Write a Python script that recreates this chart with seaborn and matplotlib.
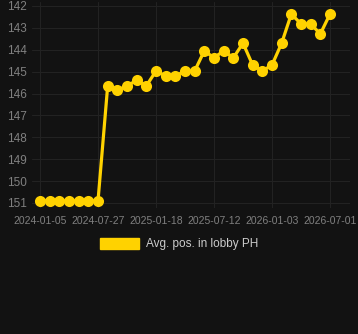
import pandas as pd
import seaborn as sns
import matplotlib.pyplot as plt
from matplotlib.patches import Patch

# Average lobby position, one value per snapshot (lower rank number = better)
positions = [150.9, 150.9, 150.9, 150.9, 150.9, 150.9, 150.9,
             145.65, 145.85, 145.65, 145.4, 145.65, 144.97, 145.2, 145.2,
             144.97, 144.97, 144.05, 144.37, 144.05, 144.37, 143.7, 144.7,
             144.97, 144.7, 143.7, 142.37, 142.82, 142.82, 143.28, 142.37]
date_labels = ["2024-01-05", "2024-07-27", "2025-01-18",
               "2025-07-12", "2026-01-03", "2026-07-01"]
y_ticks = list(range(142, 152))

df = pd.DataFrame({"idx": range(len(positions)), "pos": positions})

bg = "#121212"
gold = "#FFD200"

sns.set_style("dark")
plt.rcParams["font.family"] = ["Liberation Sans", "DejaVu Sans"]

fig = plt.figure(figsize=(3.58, 3.34), dpi=100, facecolor=bg)
ax = fig.add_axes([32 / 358, 1 - 208 / 334, 318 / 358, 206 / 334])
ax.set_facecolor(bg)

sns.lineplot(data=df, x="idx", y="pos", ax=ax, color=gold, linewidth=2.3,
             marker="o", markersize=8, markeredgewidth=0, legend=False)

ax.set_xlim(-0.83, 32.07)
ax.set_ylim(151.23, 141.82)
ax.set_xticks(range(0, len(positions), 6))
ax.set_xticklabels(date_labels)
ax.set_yticks(y_ticks)
ax.tick_params(axis="x", colors="#808080", labelsize=7.5, length=0, pad=6)
ax.tick_params(axis="y", colors="#808080", labelsize=8.5, length=0, pad=4)
ax.grid(True, color="#222222", linewidth=0.8)
ax.set_xlabel("")
ax.set_ylabel("")
for s in ax.spines.values():
    s.set_visible(False)

fig.legend(handles=[Patch(color=gold, label="Avg. pos. in lobby PH")],
           loc="center", bbox_to_anchor=(0.5, 1 - 244 / 334), frameon=False,
           handlelength=3.3, handleheight=1.1, handletextpad=0.6, fontsize=8.5,
           labelcolor="#cccccc")

plt.savefig("out.png", dpi=100, facecolor=bg)
